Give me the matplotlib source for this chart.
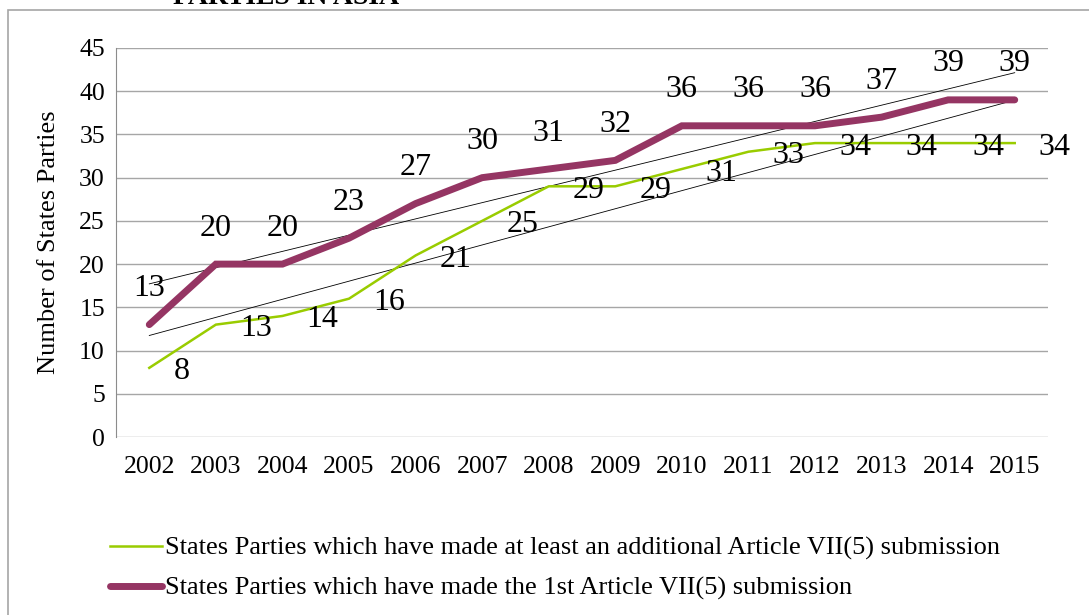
import numpy as np
import matplotlib
matplotlib.use("Agg")
import matplotlib.pyplot as plt
from matplotlib.patches import Rectangle

plt.rcParams['font.family'] = ['Liberation Serif', 'DejaVu Serif']

years = ['2002', '2003', '2004', '2005', '2006', '2007', '2008',
         '2009', '2010', '2011', '2012', '2013', '2014', '2015']
additional = [8, 13, 14, 16, 21, 25, 29, 29, 31, 33, 34, 34, 34, 34]
first_sub = [13, 20, 20, 23, 27, 30, 31, 32, 36, 36, 36, 37, 39, 39]

label_add = 'States Parties which have made at least an additional Article VII(5) submission'
label_first = 'States Parties which have made the 1st Article VII(5) submission'

green = '#99CC00'
purple = '#953563'

fig = plt.figure(figsize=(10.89, 6.15), dpi=100)
ax = fig.add_axes([116/1089, 1-437/615, (1048-116)/1089, (437-48)/615])

x = np.arange(len(years))

# linear trendlines (thin black)
for ys in (additional, first_sub):
    k, b = np.polyfit(x, ys, 1)
    ax.plot(x, k*x + b, color='black', lw=0.6, zorder=2)

l1, = ax.plot(x, additional, color=green, lw=1.8, zorder=3)
l2, = ax.plot(x, first_sub, color=purple, lw=5, solid_capstyle='round',
              solid_joinstyle='miter', zorder=4)

# data labels
for xi, v in zip(x, first_sub):
    ax.annotate(str(v), (xi, v), xytext=(0, 36), textcoords='offset pixels',
                ha='center', va='center', fontsize=23, zorder=5)
for xi, v in zip(x, additional):
    ax.annotate(str(v), (xi, v), xytext=(24, -4), textcoords='offset pixels',
                ha='left', va='center', fontsize=23, zorder=5)

ax.set_xlim(-0.5, 13.5)
ax.set_ylim(0, 45)
ax.set_yticks(range(0, 46, 5))
ax.set_xticks(x)
ax.set_xticklabels(years)
ax.tick_params(length=0, labelsize=18.5, pad=8)
ax.tick_params(axis='x', pad=14)
ax.grid(axis='y', color='#A6A6A6', lw=1)
ax.set_axisbelow(True)
for s in ('top', 'right', 'bottom'):
    ax.spines[s].set_visible(False)
ax.spines['left'].set_color('#8C8C8C')
ax.set_ylabel('Number of States Parties', fontsize=19, labelpad=14)

fig.legend([l1, l2], [label_add, label_first], loc='upper left',
           bbox_to_anchor=(99/1089, 1-526/615), frameon=False, fontsize=19,
           handlelength=2.0, handletextpad=0.1, labelspacing=0.6,
           borderaxespad=0)

# outer chart frame
fig.patches.append(Rectangle((8/1089, -0.1), 1.2, 1-10/615+0.1,
                             transform=fig.transFigure, fill=False,
                             edgecolor='#A6A6A6', lw=1.2, clip_on=False))

# title cut off at the top
fig.text(286/1089, 1-3.5/615, 'PARTIES IN ASIA', ha='center', va='baseline',
         fontsize=20, fontweight='bold')

fig.savefig('out.png', dpi=100)
